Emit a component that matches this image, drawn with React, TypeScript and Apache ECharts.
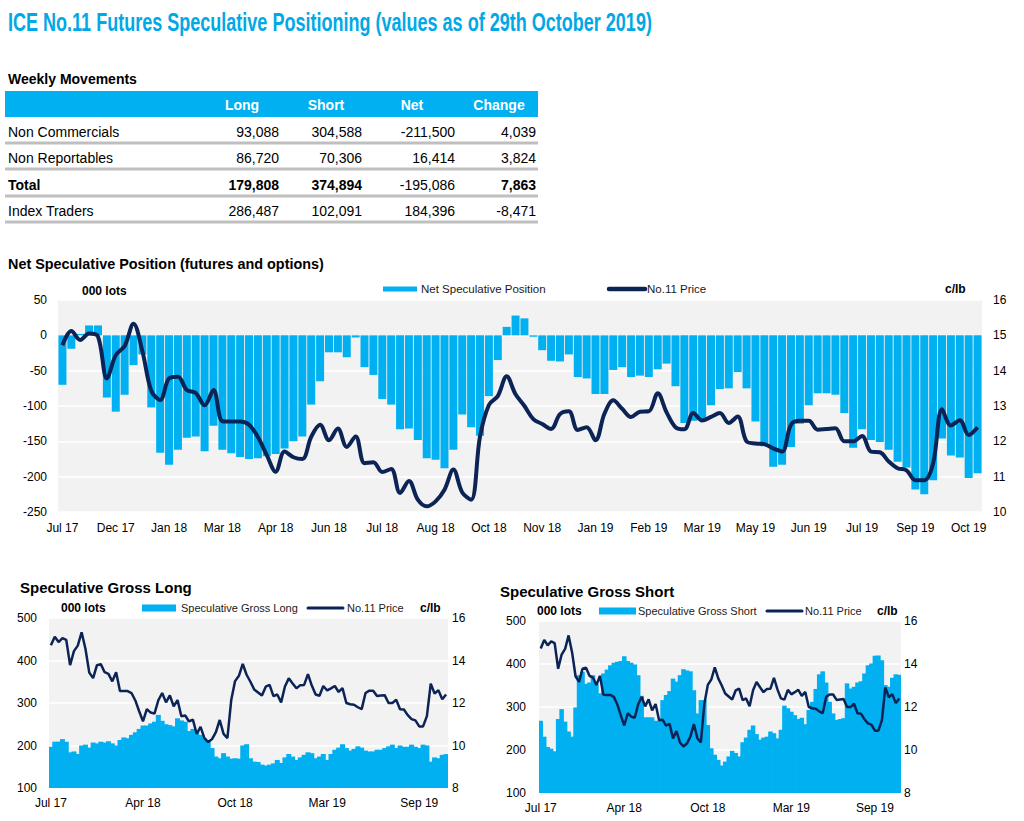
import React, { useEffect, useRef } from 'react';
import * as echarts from 'echarts';

const titleText = 'ICE No.11 Futures Speculative Positioning (values as of 29th October 2019)';

const tickLabels = ['Jul 17', 'Dec 17', 'Jan 18', 'Mar 18', 'Apr 18', 'Jun 18', 'Jul 18', 'Aug 18', 'Oct 18', 'Nov 18', 'Jan 19', 'Feb 19', 'Mar 19', 'May 19', 'Jun 19', 'Jul 19', 'Sep 19', 'Oct 19'];

const netPosition = [
  -70, -19, 2, 14, 14, -88, -108, -84, -42, -27,
  -102, -166, -183, -162, -145, -143, -164, -128, -162, -167,
  -172, -175, -174, -171, -168, -160, -150, -143, -98, -65,
  -24, -24, -31, -3, -45, -56, -90, -98, -133, -132,
  -148, -174, -176, -188, -162, -112, -130, -142, -86, -35,
  12, 28, 24, -2, -21, -36, -37, -27, -59, -61,
  -83, -83, -49, -45, -59, -57, -59, -48, -40, -72,
  -124, -121, -119, -99, -76, -75, -52, -75, -122, -157,
  -186, -183, -158, -125, -99, -82, -82, -84, -110, -159,
  -133, -148, -151, -162, -179, -187, -218, -225, -205, -146,
  -170, -173, -202, -195.1,
];

const price = [
  14.72, 15.12, 14.87, 15.05, 14.97, 13.78, 14.44, 14.7, 15.33, 14.55,
  13.43, 13.17, 13.78, 13.83, 13.45, 13.37, 13.02, 13.45, 12.57, 12.56,
  12.56, 12.47, 12.12, 11.61, 11.14, 11.71, 11.55, 11.5, 12.13, 12.47,
  12.03, 12.36, 11.84, 12.14, 11.38, 11.41, 11.13, 11.22, 10.54, 10.88,
  10.35, 10.16, 10.3, 10.63, 11.2, 10.55, 10.35, 12.14, 13.03, 13.28,
  13.84, 13.33, 13.0, 12.63, 12.49, 12.35, 12.77, 12.85, 12.32, 12.4,
  12.03, 12.78, 13.16, 12.92, 12.69, 12.84, 12.85, 13.36, 12.82, 12.4,
  12.34, 12.8, 12.59, 12.69, 12.8, 12.52, 12.7, 12.0, 11.94, 11.92,
  11.8, 11.71, 12.47, 12.58, 12.58, 12.33, 12.35, 12.37, 12.0, 12.0,
  12.15, 11.71, 11.69, 11.43, 11.24, 11.18, 10.9, 10.9, 11.38, 12.91,
  12.45, 12.6, 12.18, 12.4,
];

const grossLong = [
  197, 209, 209, 215, 209, 184, 186, 180, 200, 202,
  195, 207, 205, 209, 207, 210, 205, 200, 213, 219,
  217, 225, 231, 239, 247, 247, 252, 256, 272, 258,
  250, 248, 245, 264, 259, 256, 234, 239, 233, 225,
  217, 209, 194, 174, 170, 182, 174, 169, 170, 169,
  200, 203, 170, 162, 161, 155, 153, 155, 158, 166,
  159, 172, 180, 174, 166, 172, 178, 184, 182, 170,
  174, 180, 166, 180, 190, 195, 203, 194, 188, 192,
  198, 195, 188, 186, 186, 190, 190, 194, 198, 202,
  194, 200, 197, 197, 202, 197, 194, 202, 200, 162,
  172, 170, 178, 179.8,
];

const grossShort = [
  268, 231, 207, 203, 197, 272, 295, 266, 243, 231,
  299, 374, 382, 354, 357, 374, 353, 332, 378, 387,
  397, 403, 405, 407, 418, 407, 403, 399, 374, 326,
  276, 276, 276, 268, 268, 316, 328, 337, 366, 359,
  374, 388, 385, 383, 339, 285, 316, 316, 258, 204,
  189, 177, 164, 173, 185, 198, 193, 185, 218, 229,
  247, 257, 237, 224, 229, 231, 243, 239, 227, 247,
  303, 297, 289, 281, 272, 275, 260, 293, 312, 342,
  376, 383, 357, 312, 285, 270, 272, 274, 355, 343,
  347, 357, 360, 378, 397, 401, 419, 420, 409, 351,
  347, 368, 376, 374.9,
];

const tableHeaders = ['Long', 'Short', 'Net', 'Change'];
const tableRows = ['Non Commercials', 'Non Reportables', 'Total', 'Index Traders'];
const tableValues = [
  [93088, 304588, -211500, 4039],
  [86720, 70306, 16414, 3824],
  [179808, 374894, -195086, 7863],
  [286487, 102091, 184396, -8471],
];
const tableBold = [
  [false, false, false, false],
  [false, false, false, false],
  [true, true, false, true],
  [false, false, false, false],
];

const categories = netPosition.map((_, i) => 'Week ' + (i + 1));

const FONT = '"Liberation Sans", Arial, Helvetica, sans-serif';
const BLUE = '#00b0f0';
const NAVY = '#0c2356';
const PLOT_BG = '#f2f2f2';

function measure(text: string, font: string): number {
  const c = document.createElement('canvas').getContext('2d');
  if (!c) return 1;
  c.font = font;
  return c.measureText(text).width || 1;
}

function txt(x: number, y: number, text: string, size: number, opts: any = {}) {
  return {
    type: 'text',
    x,
    y,
    silent: true,
    scaleX: opts.scaleX ?? 1,
    scaleY: opts.scaleY ?? 1,
    style: {
      text,
      fill: opts.fill ?? '#000',
      fontSize: size,
      fontWeight: opts.bold ? 'bold' : 'normal',
      fontFamily: FONT,
      align: opts.align ?? 'left',
      textAlign: opts.align ?? 'left',
      verticalAlign: 'middle',
      textVerticalAlign: 'middle',
    },
  };
}

function rect(x: number, y: number, w: number, h: number, fill: string) {
  return { type: 'rect', silent: true, shape: { x, y, width: w, height: h }, style: { fill } };
}

function seg(x1: number, y1: number, x2: number, y2: number, stroke: string, width: number, cap = 'butt') {
  return { type: 'line', silent: true, shape: { x1, y1, x2, y2 }, style: { stroke, lineWidth: width, lineCap: cap } };
}

export default function App() {
  const ref = useRef<HTMLDivElement>(null);

  useEffect(() => {
    if (!ref.current) return;
    const chart = echarts.init(ref.current, null, { renderer: 'svg', width: 1024, height: 821 });

    const titleFont = 'bold 25px ' + FONT;
    const titleScale = 644 / measure(titleText, titleFont);

    const graphics: any[] = [];
    graphics.push(txt(8, 22, titleText, 25, { bold: true, fill: '#00a9e6', scaleX: titleScale, scaleY: 1.06 }));

    // Table
    graphics.push(txt(8, 79, 'Weekly Movements', 14, { bold: true }));
    graphics.push(rect(5, 91, 533, 26, BLUE));
    const headerX = [242, 326, 412, 499];
    tableHeaders.forEach((h, j) => graphics.push(txt(headerX[j], 105, h, 14, { bold: true, fill: '#fff', align: 'center' })));
    const rowY = [132, 158, 185, 211];
    const lineY = [143, 169, 196, 222];
    const valueX = [279, 362, 455, 536];
    tableRows.forEach((r, i) => {
      graphics.push(txt(8, rowY[i], r, 14, { bold: r === 'Total' }));
      tableValues[i].forEach((v, j) => {
        graphics.push(txt(valueX[j], rowY[i], v.toLocaleString('en-US'), 14, { align: 'right', bold: tableBold[i][j] }));
      });
      graphics.push(seg(5, lineY[i], 538, lineY[i], '#bfbfbf', 3));
    });

    // Main chart annotations
    graphics.push(txt(8, 264, 'Net Speculative Position (futures and options)', 14.4, { bold: true }));
    graphics.push(txt(82, 291, '000 lots', 12, { bold: true }));
    graphics.push(txt(945, 289, 'c/lb', 12, { bold: true }));
    graphics.push(rect(383, 286.5, 34, 5, BLUE));
    graphics.push(txt(421, 289, 'Net Speculative Position', 11.5, { fill: '#1a1a1a' }));
    graphics.push(seg(609, 289, 645, 289, NAVY, 4.5, 'round'));
    graphics.push(txt(647, 289, 'No.11 Price', 11.5, { fill: '#1a1a1a' }));

    // Gross long annotations
    graphics.push(txt(20, 587, 'Speculative Gross Long', 15, { bold: true }));
    graphics.push(txt(61, 608, '000 lots', 12, { bold: true }));
    graphics.push(txt(420, 608, 'c/lb', 12, { bold: true }));
    graphics.push(rect(142, 604.5, 34, 7, BLUE));
    graphics.push(txt(181, 608, 'Speculative Gross Long', 11, { fill: '#1a1a1a' }));
    graphics.push(seg(308, 608, 343, 608, NAVY, 3, 'round'));
    graphics.push(txt(347, 608, 'No.11 Price', 11, { fill: '#1a1a1a' }));

    // Gross short annotations
    graphics.push(txt(500, 591, 'Speculative Gross Short', 15, { bold: true }));
    graphics.push(txt(537, 611, '000 lots', 12, { bold: true }));
    graphics.push(txt(877, 611, 'c/lb', 12, { bold: true }));
    graphics.push(rect(599, 607.5, 37, 7, BLUE));
    graphics.push(txt(638, 611, 'Speculative Gross Short', 11, { fill: '#1a1a1a' }));
    graphics.push(seg(767, 611, 802, 611, NAVY, 3, 'round'));
    graphics.push(txt(805, 611, 'No.11 Price', 11, { fill: '#1a1a1a' }));

    const axisText = { color: '#000', fontSize: 12, fontFamily: FONT };

    const catAxis = (gridIndex: number, interval: number, margin: number) => ({
      type: 'category',
      gridIndex,
      data: categories,
      boundaryGap: true,
      axisLine: { show: false },
      axisTick: { show: false },
      splitLine: { show: false },
      axisLabel: {
        ...axisText,
        interval,
        margin,
        formatter: (_v: string, idx: number) => (idx % 6 === 0 ? tickLabels[idx / 6] : ''),
      },
    });

    const valAxis = (gridIndex: number, min: number, max: number, interval: number, position: string, margin: number, split: boolean) => ({
      type: 'value',
      gridIndex,
      min,
      max,
      interval,
      position,
      axisLine: { show: false },
      axisTick: { show: false },
      splitLine: { show: split, lineStyle: { color: '#ffffff', width: 1.5 } },
      axisLabel: { ...axisText, margin },
    });

    const option: any = {
      animation: false,
      backgroundColor: '#ffffff',
      grid: [
        { left: 58, top: 300, width: 924, height: 212, show: true, backgroundColor: PLOT_BG, borderWidth: 0, containLabel: false },
        { left: 49, top: 618, width: 399, height: 170, show: true, backgroundColor: PLOT_BG, borderWidth: 0, containLabel: false },
        { left: 539, top: 621, width: 362, height: 172, show: true, backgroundColor: PLOT_BG, borderWidth: 0, containLabel: false },
      ],
      xAxis: [catAxis(0, 5, 10), catAxis(1, 23, 9), catAxis(2, 23, 9)],
      yAxis: [
        valAxis(0, -250, 50, 50, 'left', 11, true),
        valAxis(0, 10, 16, 1, 'right', 11, false),
        valAxis(1, 100, 500, 100, 'left', 12, true),
        valAxis(1, 8, 16, 2, 'right', 4, false),
        valAxis(2, 100, 500, 100, 'left', 13, true),
        valAxis(2, 8, 16, 2, 'right', 3, false),
      ],
      series: [
        {
          name: 'Net Speculative Position',
          type: 'bar',
          xAxisIndex: 0,
          yAxisIndex: 0,
          data: netPosition,
          barCategoryGap: '10%',
          itemStyle: { color: BLUE },
        },
        {
          name: 'No.11 Price',
          type: 'line',
          xAxisIndex: 0,
          yAxisIndex: 1,
          data: price,
          smooth: 0.35,
          symbol: 'none',
          lineStyle: { color: NAVY, width: 4 },
        },
        {
          name: 'Speculative Gross Long',
          type: 'bar',
          xAxisIndex: 1,
          yAxisIndex: 2,
          data: grossLong,
          barWidth: '130%',
          itemStyle: { color: BLUE },
        },
        {
          name: 'No.11 Price',
          type: 'line',
          xAxisIndex: 1,
          yAxisIndex: 3,
          data: price,
          symbol: 'none',
          lineStyle: { color: NAVY, width: 2.5 },
        },
        {
          name: 'Speculative Gross Short',
          type: 'bar',
          xAxisIndex: 2,
          yAxisIndex: 4,
          data: grossShort,
          barWidth: '130%',
          itemStyle: { color: BLUE },
        },
        {
          name: 'No.11 Price',
          type: 'line',
          xAxisIndex: 2,
          yAxisIndex: 5,
          data: price,
          symbol: 'none',
          lineStyle: { color: NAVY, width: 2.5 },
        },
      ],
      graphic: graphics,
    };

    chart.setOption(option);
    return () => chart.dispose();
  }, []);

  return (
    <div
      ref={ref}
      style={{ position: 'absolute', left: 0, top: 0, width: 1024, height: 821, background: '#fff' }}
    />
  );
}
